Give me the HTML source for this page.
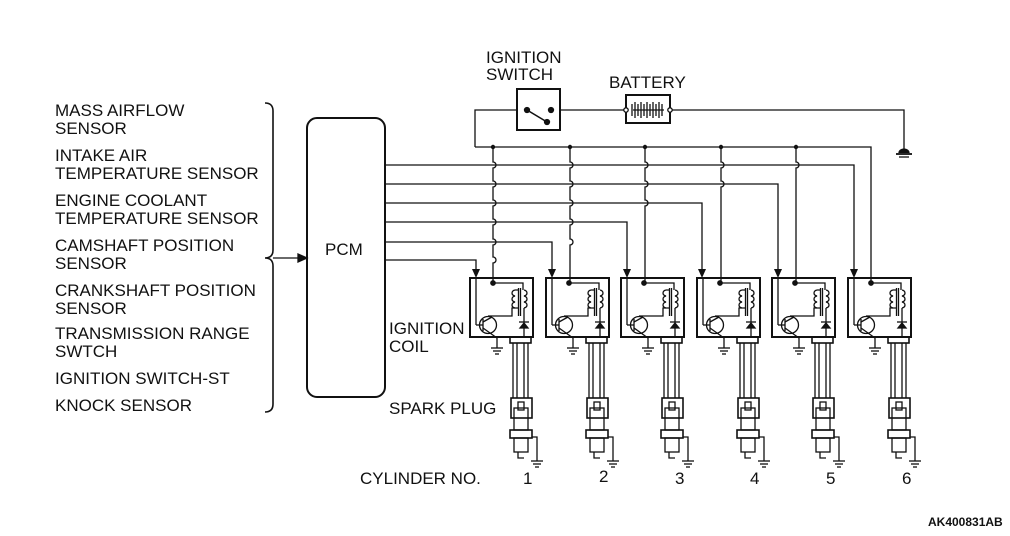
<!DOCTYPE html>
<html><head><style>body{margin:0;background:#fff}svg{display:block}text{font-family:"Liberation Sans",sans-serif;font-size:17px;fill:#111}</style></head><body>
<svg width="1010" height="536" viewBox="0 0 1010 536" xmlns="http://www.w3.org/2000/svg">
<defs>
<g id="coil" fill="none" stroke="#111" stroke-width="1.3">
<rect x="0" y="0" width="63" height="59" stroke-width="2"/>
<rect x="40" y="59" width="21" height="6" stroke-width="1.6"/>
<polyline points="23,5 53,5 53,12"/>
<circle cx="23" cy="5" r="2.2" fill="#111"/>
<path d="M45,12 h4 M45,12 c-4,1 -4,5 0,6 c-4,1 -4,5 0,6 c-4,1 -4,5 0,6 h4 M54,12 c4,1 4,5 0,6 c4,1 4,5 0,6 c4,1 4,5 0,6"/>
<line x1="48.5" y1="10" x2="48.5" y2="38"/><line x1="50.5" y1="10" x2="50.5" y2="38"/>
<polyline points="45,30 42,30 42,38 18,38"/>
<circle cx="18" cy="47" r="8.5"/>
<line x1="6" y1="0" x2="6" y2="47"/><line x1="6" y1="47" x2="13" y2="47"/>
<line x1="13" y1="41" x2="13" y2="53"/><line x1="13" y1="44" x2="22" y2="39"/><line x1="13" y1="50" x2="27" y2="60"/>
<line x1="27" y1="60" x2="27" y2="70"/>
<line x1="21" y1="70" x2="33" y2="70"/><line x1="23" y1="73" x2="31" y2="73"/><line x1="25" y1="76" x2="29" y2="76"/>
<line x1="54" y1="30" x2="54" y2="59"/>
<path d="M50,50 L58,50 L54,45z" fill="#111"/><line x1="49" y1="44" x2="59" y2="44"/>
<line x1="43" y1="65" x2="43" y2="120"/><line x1="47" y1="65" x2="47" y2="120"/>
<line x1="54" y1="65" x2="54" y2="120"/><line x1="58" y1="65" x2="58" y2="120"/>
<rect x="41" y="120" width="21" height="20" stroke-width="1.6"/>
<rect x="48" y="124" width="6" height="8"/>
<rect x="44" y="130" width="14" height="22"/>
<rect x="40" y="152" width="22" height="8" stroke-width="1.6"/>
<rect x="44" y="160" width="14" height="14"/>
<path d="M48,174 v6 h6"/>
<polyline points="62,159 67,159 67,183"/>
<line x1="61" y1="183" x2="73" y2="183"/><line x1="63" y1="186" x2="71" y2="186"/><line x1="65" y1="189" x2="69" y2="189"/>
</g>
<path id="ah" d="M-4,-9 L4,-9 L0,0z" fill="#111"/>
</defs>
<g fill="none" stroke="#111" stroke-width="1.3">
<path d="M265,103 q8,0 8,8 v139 q0,8 -8,8 q8,0 8,8 v138 q0,8 -8,8" stroke-width="1.6"/>
<line x1="273" y1="258" x2="300" y2="258"/>
<path d="M307,258 L298,254 L298,262z" fill="#111"/>
<rect x="307" y="118" width="78" height="279" rx="10" stroke-width="2"/>
<polyline points="475,147 475,110 517,110"/>
<rect x="517" y="89" width="43" height="41" stroke-width="2"/>
<circle cx="527" cy="110" r="2.5" fill="#111"/><circle cx="551" cy="110" r="2.5" fill="#111"/><circle cx="547" cy="122" r="2.5" fill="#111"/>
<line x1="527" y1="110" x2="547" y2="122" stroke-width="1.6"/>
<line x1="560" y1="110" x2="624" y2="110"/>
<rect x="626" y="95" width="44" height="28" stroke-width="2"/>
<circle cx="626" cy="110" r="2.2" fill="#fff"/><circle cx="670" cy="110" r="2.2" fill="#fff"/>
<path d="M632,104 v12 M635,102 v16 M638,104 v12 M641,102 v16 M644,104 v12 M647,102 v16 M650,104 v12 M653,102 v16 M656,104 v12 M659,102 v16 M662,104 v12 M633,110 h31"/>
<polyline points="672,110 904,110 904,152"/>
<path d="M899,153 a5,4 0 0 1 10,0" fill="#111"/>
<line x1="896" y1="154" x2="912" y2="154" stroke-width="1.8"/><line x1="899" y1="157" x2="909" y2="157"/>
<polyline points="475,147 871,147 871,283"/>
<polyline points="385,165 854,165 854,270"/>
<polyline points="385,184 778,184 778,270"/>
<polyline points="385,203 702,203 702,270"/>
<polyline points="385,222 627,222 627,270"/>
<polyline points="385,242 552,242 552,270"/>
<polyline points="385,260 476,260 476,270"/>
<path d="M493,147 V162 a3,3 0 0 1 0,6 V181 a3,3 0 0 1 0,6 V200 a3,3 0 0 1 0,6 V219 a3,3 0 0 1 0,6 V239 a3,3 0 0 1 0,6 V257 a3,3 0 0 1 0,6 V283"/>
<path d="M570,147 V162 a3,3 0 0 1 0,6 V181 a3,3 0 0 1 0,6 V200 a3,3 0 0 1 0,6 V219 a3,3 0 0 1 0,6 V239 a3,3 0 0 1 0,6 V283"/>
<path d="M645,147 V162 a3,3 0 0 1 0,6 V181 a3,3 0 0 1 0,6 V200 a3,3 0 0 1 0,6 V283"/>
<path d="M721,147 V162 a3,3 0 0 1 0,6 V181 a3,3 0 0 1 0,6 V283"/>
<path d="M796,147 V162 a3,3 0 0 1 0,6 V283"/>
</g>
<use href="#ah" x="476" y="278"/><use href="#ah" x="552" y="278"/><use href="#ah" x="627" y="278"/>
<use href="#ah" x="702" y="278"/><use href="#ah" x="778" y="278"/><use href="#ah" x="854" y="278"/>
<g fill="#111"><circle cx="493" cy="147" r="2.2"/><circle cx="570" cy="147" r="2.2"/><circle cx="645" cy="147" r="2.2"/><circle cx="721" cy="147" r="2.2"/><circle cx="796" cy="147" r="2.2"/></g>
<use href="#coil" x="470" y="278"/>
<use href="#coil" x="546" y="278"/>
<use href="#coil" x="621" y="278"/>
<use href="#coil" x="697" y="278"/>
<use href="#coil" x="772" y="278"/>
<use href="#coil" x="848" y="278"/>
<text x="55" y="116">MASS AIRFLOW</text><text x="55" y="134">SENSOR</text>
<text x="55" y="161">INTAKE AIR</text><text x="55" y="179">TEMPERATURE SENSOR</text>
<text x="55" y="206">ENGINE COOLANT</text><text x="55" y="224">TEMPERATURE SENSOR</text>
<text x="55" y="251">CAMSHAFT POSITION</text><text x="55" y="269">SENSOR</text>
<text x="55" y="296">CRANKSHAFT POSITION</text><text x="55" y="314">SENSOR</text>
<text x="55" y="339">TRANSMISSION RANGE</text><text x="55" y="357">SWTCH</text>
<text x="55" y="384">IGNITION SWITCH-ST</text>
<text x="55" y="411">KNOCK SENSOR</text>
<text x="325" y="255">PCM</text>
<text x="486" y="63">IGNITION</text><text x="486" y="80">SWITCH</text>
<text x="609" y="88">BATTERY</text>
<text x="389" y="334">IGNITION</text><text x="389" y="352">COIL</text>
<text x="389" y="414">SPARK PLUG</text>
<text x="360" y="484">CYLINDER NO.</text>
<text x="523" y="484">1</text><text x="599" y="482">2</text><text x="675" y="484">3</text><text x="750" y="484">4</text><text x="826" y="484">5</text><text x="902" y="484">6</text>
<text x="928" y="526" style="font-size:12px;font-weight:bold">AK400831AB</text>
</svg>
</body></html>
